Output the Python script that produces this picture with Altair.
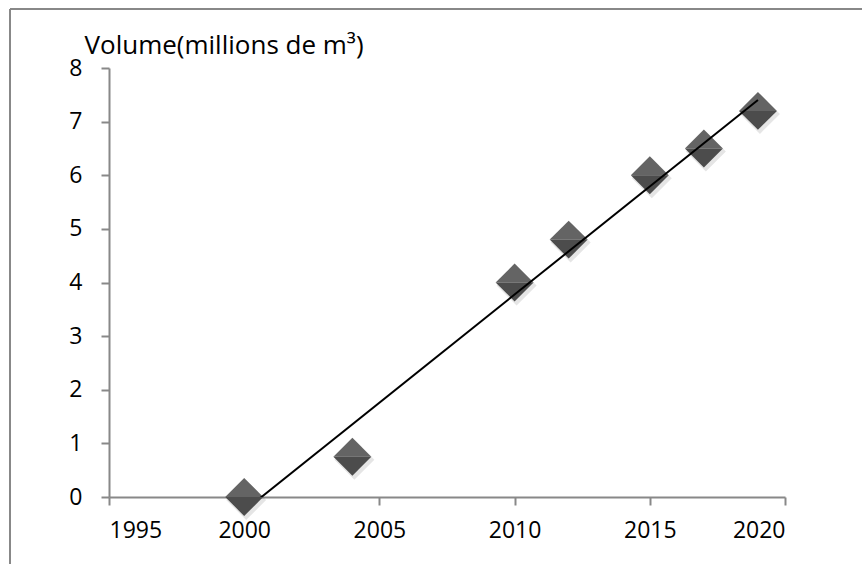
import altair as alt
import pandas as pd

# Observed volumes per year
years = [2000, 2004, 2010, 2012, 2015, 2017, 2019]
volumes = [0.0, 0.75, 4.0, 4.8, 6.0, 6.5, 7.2]

x_ticks = [1995, 2000, 2005, 2010, 2015, 2020]
y_ticks = [0, 1, 2, 3, 4, 5, 6, 7, 8]

df = pd.DataFrame({"annee": years, "volume": volumes})
one = pd.DataFrame({"k": [0]})

FONT = "Open Sans"
AXIS_GREY = "#888888"

x_enc = alt.X(
    "annee:Q",
    scale=alt.Scale(domain=[1995, 2020], nice=False, zero=False),
    axis=alt.Axis(
        values=x_ticks, format="d", title=None, grid=False,
        domainColor=AXIS_GREY, domainWidth=2, tickColor=AXIS_GREY,
        tickWidth=2, tickSize=8, labelFontSize=23, labelFont=FONT,
        labelColor="#000000", labelPadding=14,
    ),
)
y_enc = alt.Y(
    "volume:Q",
    scale=alt.Scale(domain=[0, 8], nice=False),
    axis=alt.Axis(
        values=y_ticks, format="d", title="Volume(millions de m³)",
        grid=False, domainColor=AXIS_GREY, domainWidth=2,
        tickColor=AXIS_GREY, tickWidth=2, tickSize=8,
        labelFontSize=23, labelFont=FONT, labelColor="#000000",
        labelPadding=19, labelBaseline="middle",
        titleAngle=0, titleX=-25, titleY=-15, titleAlign="left",
        titleBaseline="alphabetic", titleFont=FONT, titleFontSize=26,
        titleFontWeight="normal", titleColor="#000000",
    ),
)

base = alt.Chart(df)

# soft drop shadow under each marker
shadow = base.mark_point(
    shape="diamond", filled=True, size=1600, color="#000000",
    opacity=0.10, xOffset=2, yOffset=3,
).encode(x=x_enc, y=y_enc)

# two-tone diamond markers: lighter upper half, darker lower half
upper = base.mark_point(
    shape="M-1,0L0,-1L1,0Z", filled=True, size=1440, color="#646464",
    opacity=1, strokeWidth=0,
).encode(x=x_enc, y=y_enc)
lower = base.mark_point(
    shape="M-1,0L0,1L1,0Z", filled=True, size=1440, color="#4c4c4c",
    opacity=1, strokeWidth=0,
).encode(x=x_enc, y=y_enc)

# linear trend line
trend = base.transform_regression(
    "annee", "volume", method="linear", extent=[2000, 2019]
).mark_line(color="#000000", strokeWidth=2, clip=True).encode(
    x="annee:Q", y="volume:Q"
)

# chart frame (left and top edges)
frame_left = alt.Chart(one).mark_rule(color=AXIS_GREY, strokeWidth=2).encode(
    x=alt.value(-99), y=alt.value(-59), y2=alt.value(600)
)
frame_top = alt.Chart(one).mark_rule(color=AXIS_GREY, strokeWidth=2).encode(
    x=alt.value(-99), x2=alt.value(900), y=alt.value(-59)
)

chart = (
    alt.layer(frame_left, frame_top, shadow, upper, lower, trend)
    .properties(
        width=676, height=429,
        autosize=alt.AutoSizeParams(type="none"),
        padding={"left": 109, "top": 68, "right": 77, "bottom": 67},
        background="#ffffff",
    )
    .configure_view(stroke=None)
)

chart.save("out.html", embed_options={"renderer": "svg", "actions": False})
